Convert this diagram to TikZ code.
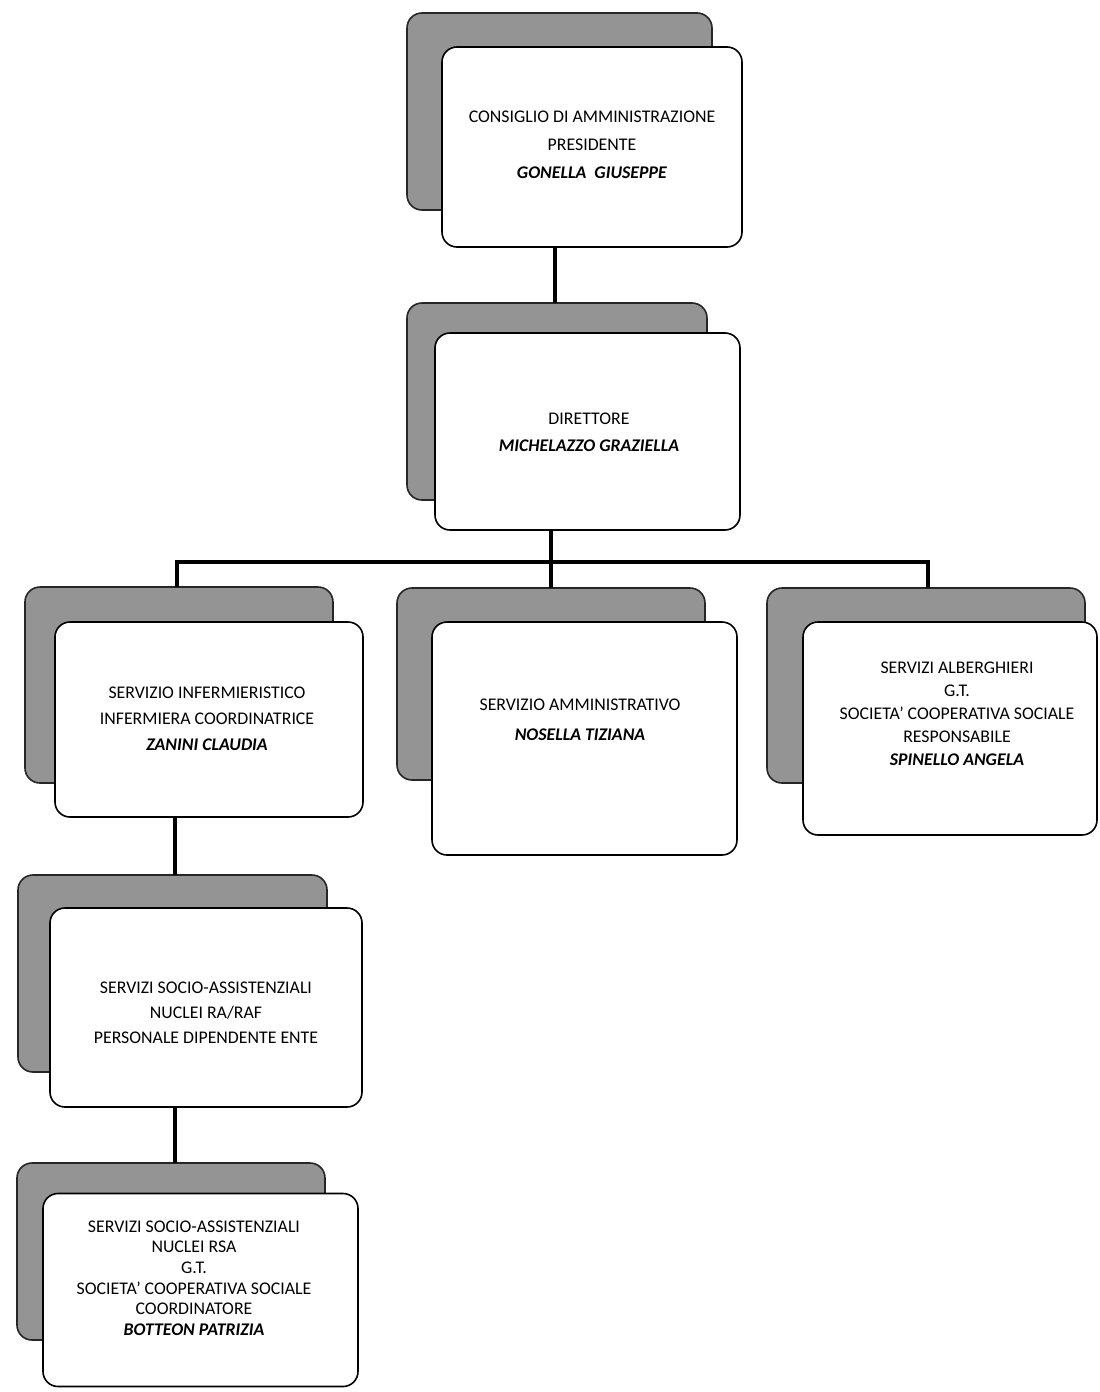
\documentclass[tikz,border=0pt]{standalone}
\usepackage{fontspec}
\setmainfont{Carlito}
\begin{document}
\begin{tikzpicture}[x=1pt,y=-1pt,
  shadowbox/.style={draw=black!85,line width=1.6pt,fill=black!42,rounded corners=15pt,inner sep=0pt,outer sep=0pt},
  frontbox/.style={draw=black,line width=1.6pt,fill=white,rounded corners=15pt,inner sep=0pt,outer sep=0pt},
  boxtext/.style={align=center,inner sep=0pt,font=\fontsize{17.8}{#1}\selectfont},
  conn/.style={line width=4.8pt,draw=black}]
\useasboundingbox[fill=white] (0,0) rectangle (1100,1392);
% connectors (drawn first, behind the boxes)
\coordinate (bus) at (551,562);
\coordinate (busL) at (177,562);
\coordinate (busR) at (928,562);
\coordinate (v1) at (555,250);
\coordinate (v2) at (175,820);
% boxes
\node[shadowbox,minimum width=305pt,minimum height=197pt] (s1) at (559.5,111.5) {};
\node[frontbox,minimum width=300pt,minimum height=200pt] (f1) at (592,147) {};
\node[boxtext=28pt] (t1) at (592,145) {CONSIGLIO DI AMMINISTRAZIONE\\PRESIDENTE\\\textbf{\textit{GONELLA\ \ GIUSEPPE}}};

\node[shadowbox,minimum width=300pt,minimum height=197pt] (s2) at (557,401.5) {};
\node[frontbox,minimum width=305pt,minimum height=197pt] (f2) at (587.5,431.5) {};
\node[boxtext=27pt] (t2) at (589,432) {DIRETTORE\\\textbf{\textit{MICHELAZZO GRAZIELLA}}};

\node[shadowbox,minimum width=308pt,minimum height=196pt] (s3) at (179,685) {};
\node[frontbox,minimum width=308pt,minimum height=195pt] (f3) at (209,719.5) {};
\node[boxtext=26pt] (t3) at (207,719) {SERVIZIO INFERMIERISTICO\\INFERMIERA COORDINATRICE\\\textbf{\textit{ZANINI CLAUDIA}}};

\node[shadowbox,minimum width=308pt,minimum height=192pt] (s4) at (551,684) {};
\node[frontbox,minimum width=305pt,minimum height=233pt] (f4) at (584.5,738.5) {};
\node[boxtext=30pt] (t4) at (580,720) {SERVIZIO AMMINISTRATIVO\\\textbf{\textit{NOSELLA TIZIANA}}};

\node[shadowbox,minimum width=318pt,minimum height=195pt] (s5) at (926,685.5) {};
\node[frontbox,minimum width=294pt,minimum height=213pt] (f5) at (950,728.5) {};
\node[boxtext=23pt] (t5) at (957,714) {SERVIZI ALBERGHIERI\\G.T.\\SOCIETA' COOPERATIVA SOCIALE\\RESPONSABILE\\\textbf{\textit{SPINELLO ANGELA}}};

\node[shadowbox,minimum width=309pt,minimum height=197pt] (s6) at (172.5,973.5) {};
\node[frontbox,minimum width=312pt,minimum height=199pt] (f6) at (206,1007.5) {};
\node[boxtext=25pt] (t6) at (206,1013) {SERVIZI SOCIO-ASSISTENZIALI\\NUCLEI RA/RAF\\PERSONALE DIPENDENTE ENTE};

\node[shadowbox,minimum width=308pt,minimum height=177pt] (s7) at (171,1251.5) {};
\node[frontbox,minimum width=315pt,minimum height=193pt] (f7) at (200.5,1290) {};
\node[boxtext=20.6pt] (t7) at (194,1278) {SERVIZI SOCIO-ASSISTENZIALI\\NUCLEI RSA\\G.T.\\SOCIETA' COOPERATIVA SOCIALE\\COORDINATORE\\\textbf{\textit{BOTTEON PATRIZIA}}};

% connectors
\draw[conn] (f1.south -| v1) -- (s2.north -| v1);
\draw[conn] (f2.south -| bus) -- (bus);
\draw[conn,line join=miter] (s3.north -| busL) -- (busL) -- (busR) -- (s5.north -| busR);
\draw[conn] (bus) -- (s4.north -| bus);
\draw[conn] (f3.south -| v2) -- (s6.north -| v2);
\draw[conn] (f6.south -| v2) -- (s7.north -| v2);
\end{tikzpicture}
\end{document}
